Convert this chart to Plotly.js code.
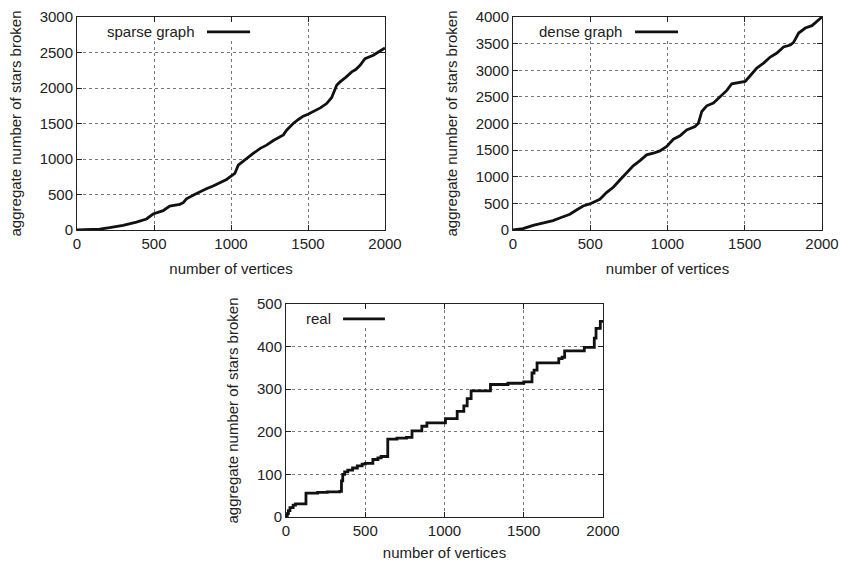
<!DOCTYPE html>
<html>
<head>
<meta charset="utf-8">
<script src="https://cdn.plot.ly/plotly-3.0.1.min.js"></script>
<style>html,body{margin:0;padding:0;background:#fff;}#chart{width:841px;height:561px;}</style>
</head>
<body>
<div id="chart"></div>
<script>
// ---- data ----
const sparseX = [0, 100, 147, 212, 299, 386, 430, 451, 494, 530, 559, 602, 640, 667, 690, 711, 760, 797, 840, 884, 930, 971, 1005, 1025, 1047, 1090, 1144, 1190, 1231, 1275, 1317, 1340, 1361, 1404, 1440, 1469, 1500, 1534, 1580, 1621, 1654, 1686, 1708, 1745, 1784, 1810, 1838, 1870, 1900, 1924, 1960, 2000];
const sparseY = [0, 5, 12, 33, 66, 112, 140, 155, 225, 255, 272, 337, 355, 361, 385, 440, 495, 539, 580, 619, 670, 712, 765, 797, 914, 990, 1078, 1150, 1195, 1260, 1312, 1340, 1406, 1500, 1560, 1603, 1630, 1664, 1720, 1781, 1866, 2039, 2086, 2150, 2227, 2260, 2320, 2414, 2440, 2461, 2510, 2564];

const denseX = [0, 65, 130, 195, 259, 303, 368, 411, 454, 497, 530, 562, 605, 649, 692, 735, 778, 822, 865, 908, 951, 995, 1038, 1081, 1124, 1178, 1200, 1222, 1254, 1297, 1341, 1384, 1416, 1470, 1503, 1535, 1578, 1622, 1665, 1708, 1751, 1795, 1816, 1849, 1892, 1935, 1968, 2000];
const denseY = [0, 25, 88, 132, 176, 226, 295, 376, 451, 489, 540, 577, 702, 803, 940, 1066, 1204, 1304, 1411, 1442, 1486, 1568, 1705, 1768, 1881, 1944, 2006, 2226, 2332, 2383, 2508, 2621, 2746, 2771, 2790, 2897, 3041, 3135, 3248, 3323, 3436, 3474, 3524, 3699, 3793, 3837, 3918, 4000];

const realX = [0, 8, 15, 25, 45, 60, 126, 200, 260, 339, 350, 358, 370, 390, 420, 450, 480, 500, 548, 580, 600, 642, 700, 760, 795, 857, 889, 1006, 1080, 1122, 1143, 1168, 1290, 1400, 1500, 1552, 1565, 1584, 1721, 1742, 1758, 1882, 1945, 1956, 1983, 2000];
const realY = [0, 8, 15, 22, 28, 31, 56, 58, 59, 60, 85, 100, 106, 110, 115, 120, 124, 126, 135, 139, 142, 183, 185, 187, 202, 213, 221, 231, 248, 261, 278, 296, 311, 314, 317, 338, 345, 362, 372, 375, 390, 398, 420, 443, 459, 460];

const seriesNames = ["sparse graph", "dense graph", "real"];
const xTitle = "number of vertices";
const yTitle = "aggregate number of stars broken";

// ---- styling ----
const FONT = "Liberation Sans, Arial, sans-serif";
const FS = 15;
const lineStyle = {color: "#111", width: 2.8};

const traces = [
  {x: sparseX, y: sparseY, mode: "lines", line: lineStyle, xaxis: "x", yaxis: "y", name: seriesNames[0], showlegend: false},
  {x: denseX, y: denseY, mode: "lines", line: lineStyle, xaxis: "x2", yaxis: "y2", name: seriesNames[1], showlegend: false},
  {x: realX, y: realY, mode: "lines", line: Object.assign({shape: "hv"}, lineStyle), xaxis: "x3", yaxis: "y3", name: seriesNames[2], showlegend: false}
];

function xa(domain, anchor) {
  return {
    domain: domain, anchor: anchor, range: [0, 2000], dtick: 500, tick0: 0,
    showline: true, linecolor: "#222", linewidth: 1, mirror: "ticks",
    ticks: "inside", ticklen: 5, tickcolor: "#222",
    showgrid: true, gridcolor: "#777", griddash: "dot", gridwidth: 1, zeroline: false,
    tickfont: {family: FONT, size: FS, color: "#222"},
    title: {text: xTitle, font: {family: FONT, size: FS, color: "#222"}, standoff: 12},
    automargin: false
  };
}
function ya(domain, anchor, range, dtick) {
  return {
    domain: domain, anchor: anchor, range: range, dtick: dtick, tick0: 0,
    showline: true, linecolor: "#222", linewidth: 1, mirror: "ticks",
    ticks: "inside", ticklen: 5, tickcolor: "#222",
    showgrid: true, gridcolor: "#777", griddash: "dot", gridwidth: 1, zeroline: false,
    tickfont: {family: FONT, size: FS, color: "#222"},
    title: {text: yTitle, font: {family: FONT, size: FS, color: "#222"}, standoff: 14},
    automargin: false
  };
}

const d1x = [77/841, 385/841], d2x = [513/841, 822/841], d3x = [286/841, 603/841];
const dTop = [1 - 230/561, 1 - 17/561], dBot = [1 - 517/561, 1 - 304/561];

const legendPos = [
  {xr: "x domain", yr: "y domain", tx: 0.39, l0: 0.422, l1: 0.562, y: 0.93, b0: 0.075, b1: 0.58},
  {xr: "x2 domain", yr: "y2 domain", tx: 0.359, l0: 0.395, l1: 0.534, y: 0.93, b0: 0.061, b1: 0.553},
  {xr: "x3 domain", yr: "y3 domain", tx: 0.148, l0: 0.18, l1: 0.312, y: 0.93, b0: 0.044, b1: 0.334}
];

const annotations = legendPos.map((p, i) => ({
  text: seriesNames[i], xref: p.xr, yref: p.yr, x: p.tx, y: p.y,
  xanchor: "right", yanchor: "middle", showarrow: false,
  font: {family: FONT, size: FS, color: "#222"}
}));
const shapes = [];
legendPos.forEach(p => {
  // key area clears the grid underneath (as gnuplot does), leaving the top ticks visible
  shapes.push({
    type: "rect", xref: p.xr, yref: p.yr, x0: p.b0, x1: p.b1, y0: 0.892, y1: 0.972,
    fillcolor: "#fff", line: {width: 0}, layer: "above"
  });
  shapes.push({
    type: "line", xref: p.xr, yref: p.yr, x0: p.l0, x1: p.l1, y0: p.y, y1: p.y,
    line: {color: "#111", width: 2.8}, layer: "above"
  });
});

const layout = {
  width: 841, height: 561,
  margin: {l: 0, r: 0, t: 0, b: 0},
  paper_bgcolor: "#fff", plot_bgcolor: "#fff",
  showlegend: false,
  xaxis: xa(d1x, "y"), yaxis: ya(dTop, "x", [0, 3000], 500),
  xaxis2: xa(d2x, "y2"), yaxis2: ya(dTop, "x2", [0, 4000], 500),
  xaxis3: xa(d3x, "y3"), yaxis3: ya(dBot, "x3", [0, 500], 100),
  annotations: annotations, shapes: shapes
};

Plotly.newPlot("chart", traces, layout, {displayModeBar: false, staticPlot: true});
</script>
</body>
</html>
